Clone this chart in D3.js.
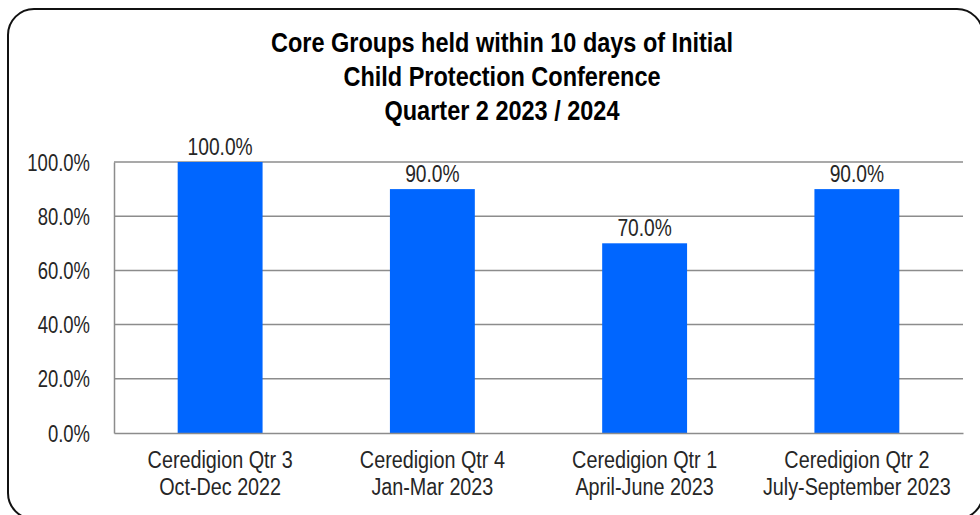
<!DOCTYPE html>
<html>
<head>
<meta charset="utf-8">
<script src="https://cdn.jsdelivr.net/npm/d3@7"></script>
<style>
  html, body { margin: 0; padding: 0; background: #fff; }
  svg { display: block; font-family: "Liberation Sans", Arial, sans-serif; }
</style>
</head>
<body>
<svg id="chart" width="980" height="515"></svg>
<script>
const titleLines = ['Core Groups held within 10 days of Initial', 'Child Protection Conference', 'Quarter 2 2023 / 2024'];
const categories = [
  ['Ceredigion Qtr 3', 'Oct-Dec 2022'],
  ['Ceredigion Qtr 4', 'Jan-Mar 2023'],
  ['Ceredigion Qtr 1', 'April-June 2023'],
  ['Ceredigion Qtr 2', 'July-September 2023']
];
const values = [100.0, 90.0, 70.0, 90.0];
const yTicks = [0, 20, 40, 60, 80, 100];

const margin = {top: 162, left: 114, right: 17, bottom: 82};
const width = 980;
const height = 515;

const svg = d3.select('#chart');

svg.append('rect')
  .attr('x', 8).attr('y', 9)
  .attr('width', 975).attr('height', 510)
  .attr('rx', 26).attr('ry', 26)
  .attr('fill', '#fff')
  .attr('stroke', '#111')
  .attr('stroke-width', 2);

const x = d3.scaleBand()
  .domain(d3.range(categories.length))
  .range([margin.left, width - margin.right])
  .padding(0);

const y = d3.scaleLinear()
  .domain([0, 100])
  .range([height - margin.bottom, margin.top]);

const barW = x.bandwidth() * 0.4;

// glyphs in the original are horizontally compressed, so squash each text
function squashedText(g, tx, ty, str, size, sx, anchor, weight, fill) {
  return g.append('text')
    .attr('transform', `translate(${tx},${ty}) scale(${sx},1)`)
    .attr('text-anchor', anchor)
    .attr('font-size', size)
    .attr('font-weight', weight || 'normal')
    .attr('fill', fill || '#262626')
    .text(str);
}

// title
const title = svg.append('g');
titleLines.forEach((line, i) => {
  squashedText(title, 502, 52 + i * 34, line, 27, 0.87, 'middle', 'bold', '#000');
});

// grid
const grid = svg.append('g');
grid.selectAll('line')
  .data(yTicks.filter(t => t > 0))
  .join('line')
  .attr('x1', margin.left).attr('x2', width - margin.right)
  .attr('y1', d => y(d)).attr('y2', d => y(d))
  .attr('stroke', '#8c8c8c')
  .attr('stroke-width', 1.5);

// bars
svg.append('g')
  .selectAll('rect')
  .data(values)
  .join('rect')
  .attr('x', (d, i) => x(i) + x.bandwidth() / 2 - barW / 2)
  .attr('y', d => y(d))
  .attr('width', barW)
  .attr('height', d => y(0) - y(d))
  .attr('fill', '#0066ff');

// axes
const yAxis = d3.axisLeft(y).tickValues(yTicks).tickSize(0).tickFormat(d => d.toFixed(1) + '%');
const yg = svg.append('g')
  .attr('transform', `translate(${margin.left},0)`)
  .call(yAxis);
yg.select('.domain').attr('stroke', '#8c8c8c').attr('stroke-width', 1.5);
yg.selectAll('.tick text').remove();
yg.selectAll('.tick').each(function(d) {
  squashedText(d3.select(this), -24, 8, d.toFixed(1) + '%', 24, 0.77, 'end');
});

const xAxis = d3.axisBottom(x).tickSize(0).tickFormat('');
const xg = svg.append('g')
  .attr('transform', `translate(0,${y(0)})`)
  .call(xAxis);
xg.select('.domain').attr('stroke', '#8c8c8c').attr('stroke-width', 1.5);
xg.selectAll('.tick').each(function(d) {
  const t = d3.select(this);
  categories[d].forEach((line, j) => {
    squashedText(t, 0, 35 + j * 27, line, 23, 0.86, 'middle');
  });
});

// value labels
const labels = svg.append('g');
values.forEach((v, i) => {
  squashedText(labels, x(i) + x.bandwidth() / 2, y(v) - 7, v.toFixed(1) + '%', 24, 0.8, 'middle');
});
</script>
</body>
</html>
